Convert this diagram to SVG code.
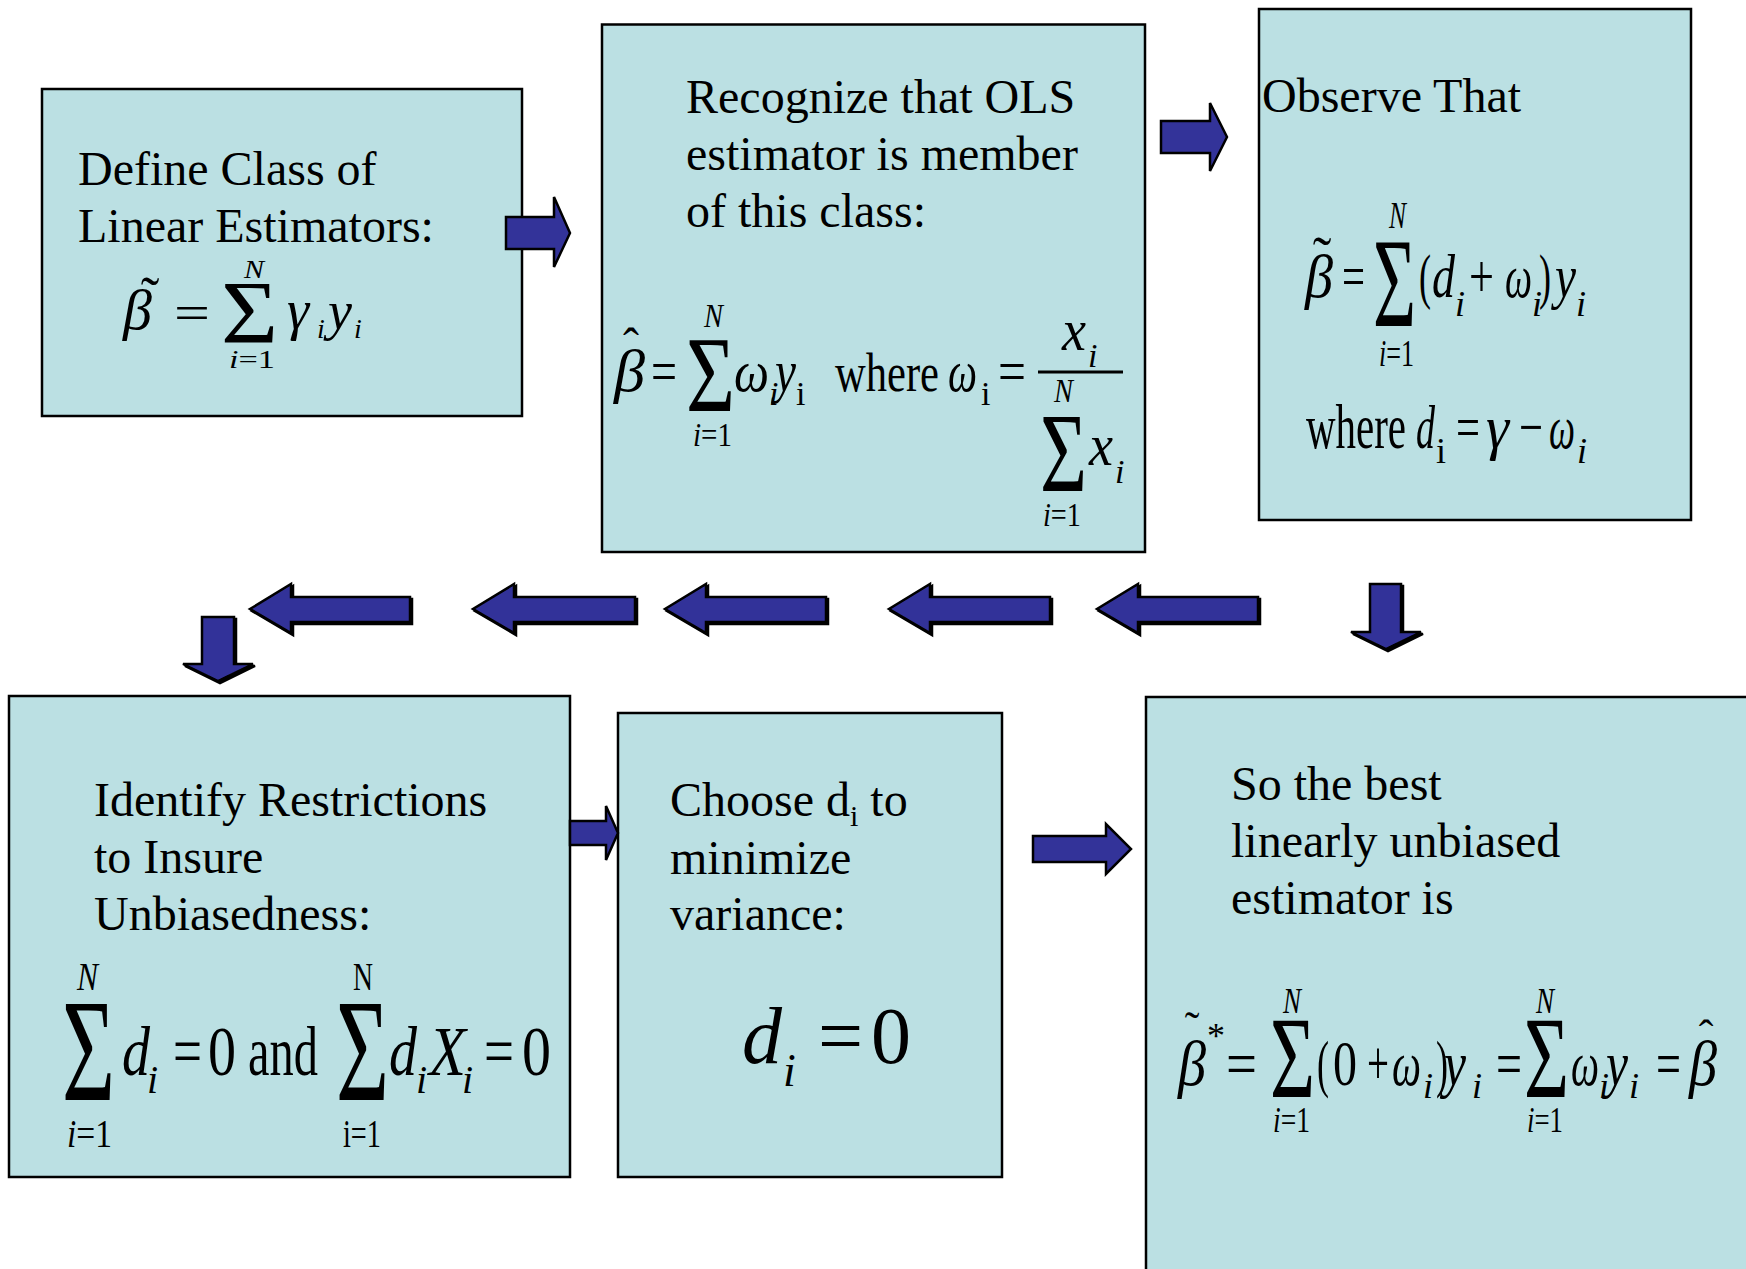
<svg xmlns="http://www.w3.org/2000/svg" width="1746" height="1269" viewBox="0 0 1746 1269">
<defs>
<style>
.box{fill:#BBE0E3;stroke:#000;stroke-width:2.5}
.arr{fill:#333399;stroke:#000;stroke-width:2.5;stroke-linejoin:miter}
.sh{filter:url(#shadow)}
text{font-family:"Liberation Serif","Times New Roman",serif;fill:#000}
.bt{font-size:48px}
.it{font-style:italic}
</style>
<filter id="shadow" x="-10%" y="-10%" width="130%" height="130%">
<feOffset in="SourceAlpha" dx="1.5" dy="1.5" result="o"/>
<feMerge><feMergeNode in="o"/><feMergeNode in="SourceGraphic"/></feMerge>
</filter>
</defs>
<rect width="1746" height="1269" fill="#fff"/>

<g id="node1">
<rect class="box" x="42" y="89" width="480" height="327"/>
<text class="bt" x="78" y="185">Define Class of</text>
<text class="bt" x="78" y="242">Linear Estimators:</text>
<text x="123" y="329" font-size="58" class="it">β</text>
<text x="150" y="316" font-size="56" text-anchor="middle">˜</text>
<text x="174" y="329" font-size="48" textLength="36" lengthAdjust="spacingAndGlyphs">=</text>
<text x="221" y="342" font-size="88" textLength="57" lengthAdjust="spacingAndGlyphs">Σ</text>
<text x="244" y="278" font-size="26" class="it" textLength="20" lengthAdjust="spacingAndGlyphs">N</text>
<text x="229" y="368" font-size="26" textLength="46" lengthAdjust="spacingAndGlyphs"><tspan class="it">i</tspan>=1</text>
<text x="287" y="329" font-size="56" class="it">γ</text>
<text x="317" y="338" font-size="28" class="it">i</text>
<text x="328" y="329" font-size="54" class="it">y</text>
<text x="354" y="338" font-size="28" class="it">i</text>
</g>

<g id="node2">
<rect class="box" x="602" y="24.5" width="543" height="527.5"/>
<text class="bt" x="686" y="113">Recognize that OLS</text>
<text class="bt" x="686" y="170">estimator is member</text>
<text class="bt" x="686" y="227">of this class:</text>
<text x="614" y="391" font-size="60" class="it" textLength="31" lengthAdjust="spacingAndGlyphs">β</text>
<text x="631" y="362" font-size="48" text-anchor="middle">ˆ</text>
<text x="651" y="391" font-size="60" textLength="26" lengthAdjust="spacingAndGlyphs">=</text>
<text x="686" y="411" font-size="109" textLength="49" lengthAdjust="spacingAndGlyphs">Σ</text>
<text x="704" y="327" font-size="34" class="it" textLength="19" lengthAdjust="spacingAndGlyphs">N</text>
<text x="693" y="446" font-size="34" textLength="39" lengthAdjust="spacingAndGlyphs"><tspan class="it">i</tspan>=1</text>
<text x="734" y="391" font-size="60" class="it" textLength="35" lengthAdjust="spacingAndGlyphs">ω</text>
<text x="769" y="405" font-size="34" class="it">i</text>
<text x="775" y="391" font-size="60" class="it" textLength="21" lengthAdjust="spacingAndGlyphs">y</text>
<text x="796" y="405" font-size="34">i</text>
<text x="835" y="391" font-size="54" textLength="104" lengthAdjust="spacingAndGlyphs">where</text>
<text x="948" y="391" font-size="60" class="it" textLength="29" lengthAdjust="spacingAndGlyphs">ω</text>
<text x="981" y="405" font-size="34">i</text>
<text x="998" y="391" font-size="60" textLength="28" lengthAdjust="spacingAndGlyphs">=</text>
<line x1="1038" y1="372" x2="1123" y2="372" stroke="#000" stroke-width="3"/>
<text x="1062" y="350" font-size="60" class="it" textLength="24" lengthAdjust="spacingAndGlyphs">x</text>
<text x="1088" y="367" font-size="34" class="it">i</text>
<text x="1054" y="402" font-size="34" class="it" textLength="19" lengthAdjust="spacingAndGlyphs">N</text>
<text x="1040" y="491" font-size="113" textLength="47" lengthAdjust="spacingAndGlyphs">Σ</text>
<text x="1089" y="465" font-size="60" class="it" textLength="24" lengthAdjust="spacingAndGlyphs">x</text>
<text x="1115" y="483" font-size="34" class="it">i</text>
<text x="1043" y="526" font-size="34" textLength="38" lengthAdjust="spacingAndGlyphs"><tspan class="it">i</tspan>=1</text>
</g>

<g id="node3">
<rect class="box" x="1259" y="9" width="432" height="511"/>
<text class="bt" x="1262" y="112">Observe That</text>
<text x="1305" y="297" font-size="62" class="it" textLength="28" lengthAdjust="spacingAndGlyphs">β</text>
<text x="1322" y="276" font-size="56" text-anchor="middle">˜</text>
<text x="1342" y="297" font-size="62" textLength="23" lengthAdjust="spacingAndGlyphs">=</text>
<text x="1373" y="326" font-size="128" textLength="43" lengthAdjust="spacingAndGlyphs">Σ</text>
<text x="1389" y="228" font-size="38" class="it" textLength="17" lengthAdjust="spacingAndGlyphs">N</text>
<text x="1379" y="366" font-size="38" textLength="35" lengthAdjust="spacingAndGlyphs"><tspan class="it">i</tspan>=1</text>
<text x="1419" y="297" font-size="62" textLength="12" lengthAdjust="spacingAndGlyphs">(</text>
<text x="1432" y="297" font-size="62" class="it" textLength="23" lengthAdjust="spacingAndGlyphs">d</text>
<text x="1455" y="316" font-size="36" class="it">i</text>
<text x="1469" y="297" font-size="62" textLength="25" lengthAdjust="spacingAndGlyphs">+</text>
<text x="1505" y="297" font-size="62" class="it" textLength="27" lengthAdjust="spacingAndGlyphs">ω</text>
<text x="1532" y="316" font-size="36" class="it">i</text>
<text x="1539" y="297" font-size="62" textLength="12" lengthAdjust="spacingAndGlyphs">)</text>
<text x="1555" y="297" font-size="62" class="it" textLength="21" lengthAdjust="spacingAndGlyphs">y</text>
<text x="1576" y="316" font-size="36" class="it">i</text>
<text x="1306" y="448" font-size="64" textLength="100" lengthAdjust="spacingAndGlyphs">where</text>
<text x="1416" y="448" font-size="62" class="it" textLength="19" lengthAdjust="spacingAndGlyphs">d</text>
<text x="1436" y="463" font-size="36">i</text>
<text x="1456" y="448" font-size="62" textLength="24" lengthAdjust="spacingAndGlyphs">=</text>
<text x="1486" y="448" font-size="62" class="it" textLength="23" lengthAdjust="spacingAndGlyphs">γ</text>
<text x="1519" y="448" font-size="62" textLength="24" lengthAdjust="spacingAndGlyphs">−</text>
<text x="1549" y="448" font-size="62" class="it" textLength="26" lengthAdjust="spacingAndGlyphs">ω</text>
<text x="1577" y="463" font-size="36" class="it">i</text>
</g>

<g id="node4">
<rect class="box" x="9" y="696" width="561" height="481"/>
<text class="bt" x="94" y="816">Identify Restrictions</text>
<text class="bt" x="94" y="873">to Insure</text>
<text class="bt" x="94" y="930">Unbiasedness:</text>
<text x="62" y="1100" font-size="146" textLength="53" lengthAdjust="spacingAndGlyphs">Σ</text>
<text x="77" y="990" font-size="40" class="it" textLength="21" lengthAdjust="spacingAndGlyphs">N</text>
<text x="67" y="1147" font-size="40" textLength="45" lengthAdjust="spacingAndGlyphs"><tspan class="it">i</tspan>=1</text>
<text x="122" y="1075" font-size="70" class="it" textLength="28" lengthAdjust="spacingAndGlyphs">d</text>
<text x="147" y="1093" font-size="40" class="it">i</text>
<text x="173" y="1075" font-size="70" textLength="29" lengthAdjust="spacingAndGlyphs">=</text>
<text x="208" y="1075" font-size="70" textLength="28" lengthAdjust="spacingAndGlyphs">0</text>
<text x="248" y="1075" font-size="70" textLength="70" lengthAdjust="spacingAndGlyphs">and</text>
<text x="336" y="1100" font-size="146" textLength="53" lengthAdjust="spacingAndGlyphs">Σ</text>
<text x="353" y="990" font-size="40" textLength="20" lengthAdjust="spacingAndGlyphs">N</text>
<text x="343" y="1147" font-size="40" textLength="38" lengthAdjust="spacingAndGlyphs">i=1</text>
<text x="389" y="1075" font-size="70" class="it" textLength="28" lengthAdjust="spacingAndGlyphs">d</text>
<text x="416" y="1093" font-size="40" class="it">i</text>
<text x="429" y="1075" font-size="70" class="it" textLength="37" lengthAdjust="spacingAndGlyphs">X</text>
<text x="462" y="1093" font-size="40" class="it">i</text>
<text x="484" y="1075" font-size="70" textLength="30" lengthAdjust="spacingAndGlyphs">=</text>
<text x="522" y="1075" font-size="70" textLength="29" lengthAdjust="spacingAndGlyphs">0</text>
</g>

<g id="node5">
<rect class="box" x="618" y="713" width="384" height="464"/>
<text class="bt" x="670" y="816">Choose d<tspan font-size="30" dy="10">i</tspan><tspan dy="-10"> to</tspan></text>
<text class="bt" x="670" y="874">minimize</text>
<text class="bt" x="670" y="930">variance:</text>
<text x="742" y="1063" font-size="80" class="it">d</text>
<text x="783" y="1086" font-size="46" class="it">i</text>
<text x="818" y="1063" font-size="80">=</text>
<text x="871" y="1063" font-size="80">0</text>
</g>

<g id="node6">
<rect class="box" x="1146" y="697" width="700" height="700"/>
<text class="bt" x="1231" y="800">So the best</text>
<text class="bt" x="1231" y="857">linearly unbiased</text>
<text class="bt" x="1231" y="914">estimator is</text>
<text x="1178" y="1085" font-size="64" class="it" textLength="28" lengthAdjust="spacingAndGlyphs">β</text>
<text x="1192" y="1042" font-size="44" text-anchor="middle">˜</text>
<text x="1207" y="1048" font-size="36">*</text>
<text x="1226" y="1085" font-size="64" textLength="31" lengthAdjust="spacingAndGlyphs">=</text>
<text x="1270" y="1097" font-size="116" textLength="45" lengthAdjust="spacingAndGlyphs">Σ</text>
<text x="1283" y="1013" font-size="36" class="it" textLength="18" lengthAdjust="spacingAndGlyphs">N</text>
<text x="1273" y="1132" font-size="36" textLength="37" lengthAdjust="spacingAndGlyphs"><tspan class="it">i</tspan>=1</text>
<text x="1317" y="1085" font-size="64" textLength="12" lengthAdjust="spacingAndGlyphs">(</text>
<text x="1333" y="1085" font-size="64" textLength="24" lengthAdjust="spacingAndGlyphs">0</text>
<text x="1367" y="1085" font-size="64" textLength="22" lengthAdjust="spacingAndGlyphs">+</text>
<text x="1392" y="1085" font-size="64" class="it" textLength="29" lengthAdjust="spacingAndGlyphs">ω</text>
<text x="1423" y="1098" font-size="36" class="it">i</text>
<text x="1436" y="1085" font-size="64" textLength="12" lengthAdjust="spacingAndGlyphs">)</text>
<text x="1444" y="1085" font-size="64" class="it" textLength="22" lengthAdjust="spacingAndGlyphs">y</text>
<text x="1472" y="1098" font-size="36" class="it">i</text>
<text x="1496" y="1085" font-size="64" textLength="26" lengthAdjust="spacingAndGlyphs">=</text>
<text x="1524" y="1097" font-size="116" textLength="45" lengthAdjust="spacingAndGlyphs">Σ</text>
<text x="1536" y="1013" font-size="36" class="it" textLength="18" lengthAdjust="spacingAndGlyphs">N</text>
<text x="1527" y="1132" font-size="36" textLength="36" lengthAdjust="spacingAndGlyphs"><tspan class="it">i</tspan>=1</text>
<text x="1571" y="1085" font-size="64" class="it" textLength="28" lengthAdjust="spacingAndGlyphs">ω</text>
<text x="1599" y="1098" font-size="36" class="it">i</text>
<text x="1606" y="1085" font-size="64" class="it" textLength="22" lengthAdjust="spacingAndGlyphs">y</text>
<text x="1629" y="1098" font-size="36" class="it">i</text>
<text x="1656" y="1085" font-size="64" textLength="25" lengthAdjust="spacingAndGlyphs">=</text>
<text x="1689" y="1085" font-size="64" class="it" textLength="28" lengthAdjust="spacingAndGlyphs">β</text>
<text x="1706" y="1050" font-size="44" text-anchor="middle">ˆ</text>
</g>

<g id="connectors">
<polygon class="arr" points="506,217 554,217 554,197 570,233 554,267 554,249 506,249"/>
<polygon class="arr" points="1161,121 1210,121 1210,103 1227,137 1210,171 1210,153 1161,153"/>
<polygon class="arr sh" points="1370,584 1401,584 1401,632 1421,632 1386,649 1351,632 1370,632"/>
<polygon class="arr sh" points="1258,597 1138,597 1138,584 1097,609 1138,633 1138,622 1258,622"/>
<polygon class="arr sh" points="1050,597 930,597 930,584 889,609 930,633 930,622 1050,622"/>
<polygon class="arr sh" points="826,597 706,597 706,584 665,609 706,633 706,622 826,622"/>
<polygon class="arr sh" points="635,597 514,597 514,584 473,609 514,633 514,622 635,622"/>
<polygon class="arr sh" points="410,597 291,597 291,584 250,609 291,633 291,622 410,622"/>
<polygon class="arr sh" points="202,617 234,617 234,664 253,664 218,681 183,664 202,664"/>
<polygon class="arr" points="570,821 606,821 606,806 618,833 606,860 606,845 570,845"/>
<polygon class="arr" points="1033,836 1106,836 1106,824 1131,849 1106,874 1106,862 1033,862"/>
</g>
</svg>
